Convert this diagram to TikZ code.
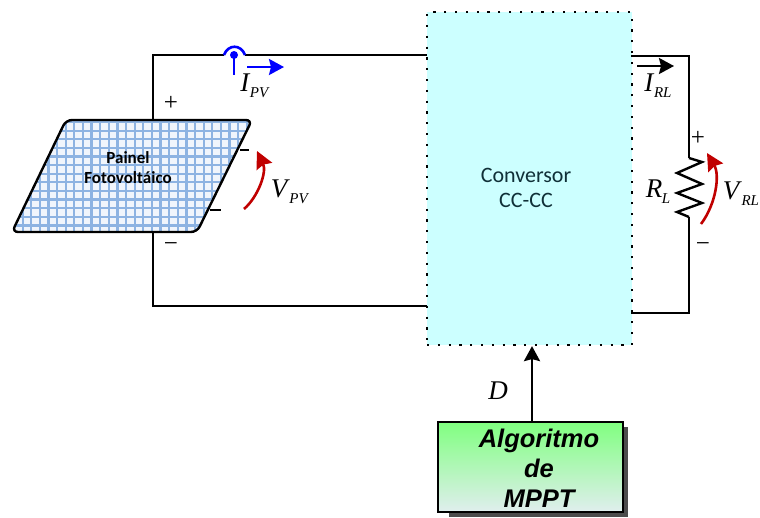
\documentclass[tikz,border=0pt]{standalone}
\usepackage{fontspec}
\setmainfont{Liberation Serif}
\setsansfont{Carlito}
\newfontfamily\arialfont{Liberation Sans}
\usepackage{tikz}
\usetikzlibrary{arrows,shapes,positioning,arrows.meta}
\definecolor{convfill}{HTML}{CCFFFF}
\definecolor{convtext}{HTML}{103038}
\definecolor{gridblue}{HTML}{8DB3E2}
\definecolor{cellblue}{HTML}{F0F5FC}
\definecolor{vred}{HTML}{C00000}
\definecolor{ipvblue}{HTML}{0000FF}
\definecolor{mpptgreen}{HTML}{80FF80}
\definecolor{mpptgrey}{HTML}{E0EEEE}
\newcommand{\sublbl}[2]{\textit{#1}\kern-0.5pt\raisebox{-6pt}{\fontsize{15}{15}\selectfont\textit{#2}}}

\begin{document}
\begin{tikzpicture}[x=1pt,y=-1pt,>=stealth',line width=2.4pt,
	wire/.style={draw=black,line width=2.4pt,line join=miter},
	lbl node/.style={inner sep=0pt,font=\fontsize{27}{27}\selectfont},
	sign node/.style={inner sep=0pt,font=\fontsize{25}{25}\selectfont},
	red arrow/.style={-{Stealth[length=17pt,width=17pt,inset=2pt]},draw=vred,line width=2.6pt},
	flow arrow/.style={-{Stealth[length=15pt,width=16pt,inset=2pt]},line width=2.4pt},
	conv node/.style={draw=black,fill=convfill,line width=2.2pt,dash pattern=on 2.2pt off 8.6pt,minimum width=205pt,minimum height=333pt,inner sep=0pt},
	mppt node/.style={draw=black,line width=2.4pt,top color=mpptgreen,bottom color=mpptgrey,minimum width=185pt,minimum height=90pt,inner sep=0pt}]
	
	\useasboundingbox (0,0) rectangle (760,517);
	
	% converter and control block
	\node[conv node] (conv) at (529.5,178.5) {};
	\node[inner sep=0pt,text=convtext,font=\sffamily\fontsize{22}{25}\selectfont,align=center] (convtxt) at (526,188) {Conversor\\CC-CC};
	\fill[black!70] (449,427) rectangle (628,517);
	\node[mppt node] (mppt) at (530.5,467) {};
	\node[inner sep=0pt,font=\arialfont\bfseries\itshape\fontsize{25.5}{30}\selectfont,align=center] (mppttxt) at (539,468) {Algoritmo\\de\\MPPT};
	\draw[flow arrow] (mppt.north -| 532,0) -- (conv.south -| 532,0);
	\node[lbl node] (dlbl) at (498,391) {\textit{D}};
	
	% panel
	\coordinate (ptl) at (66,120);
	\coordinate (ptr) at (252,120);
	\coordinate (pbr) at (197,232);
	\coordinate (pbl) at (12,232);
	\begin{scope}
		\clip[rounded corners=6pt] (ptl) -- (ptr) -- (pbr) -- (pbl) -- cycle;
		\fill[cellblue] (0,110) rectangle (260,240);
		\foreach \x in {0,...,29}
			\draw[gridblue,line width=2.2pt] (14+8.62*\x,110) -- (14+8.62*\x,240);
		\foreach \y in {0,...,13}
			\draw[gridblue,line width=2.2pt] (0,122+8.62*\y) -- (260,122+8.62*\y);
	\end{scope}
	\draw[wire,rounded corners=6pt] (ptl) -- (ptr) -- (pbr) -- (pbl) -- cycle;
	\node[inner sep=0pt,font=\sffamily\bfseries\fontsize{17}{20}\selectfont,align=center] (paneltxt) at (128,168) {Painel\\Fotovolt\'aico};
	
	% wires
	\coordinate (pvtop) at (153,120);
	\coordinate (pvbot) at (153,232);
	\coordinate (hopa) at (224,55);
	\coordinate (hopb) at (245,55);
	\coordinate (convtl) at (427,55);
	\coordinate (convbl) at (427,306);
	\coordinate (convtr) at (631,56);
	\coordinate (convbr) at (631,313);
	\coordinate (rtop) at (689,158);
	\coordinate (rbot) at (689,217);
	\draw[wire] (pvtop) |- (hopa);
	\draw[wire] (hopb) -- (convtl);
	\draw[wire] (pvbot) |- (convbl);
	\draw[wire] (convtr) -| (rtop);
	\draw[wire] (convbr) -| (rbot);
	\draw[wire] (rtop) -- (702,162) -- (677,173) -- (702,184) -- (677,193) -- (702,203) -- (677,212) -- (rbot);
	\draw[wire] (240,150) -- (249,150);
	\draw[wire] (210,210) -- (221,210);
	
	% current probe
	\coordinate (probe) at (234,55);
	\draw[ipvblue,line width=2.6pt] (hopa) .. controls (228,44) and (241,44) .. (hopb);
	\fill[ipvblue] (probe) circle (4pt);
	\draw[ipvblue,line width=2.6pt] (probe) -- (234,75);
	\coordinate (ipva) at (247,67);
	\coordinate (ipvb) at (284,67);
	\draw[flow arrow,ipvblue] (ipva) -- (ipvb);
	\coordinate (irla) at (637,66);
	\coordinate (irlb) at (674,66);
	\draw[flow arrow] (irla) -- (irlb);
	
	% voltage arrows
	\coordinate (vpva) at (244,209);
	\coordinate (vpvb) at (257,151);
	\draw[red arrow] (vpva) .. controls (258,197) and (267,172) .. (vpvb);
	\coordinate (vrla) at (701,224);
	\coordinate (vrlb) at (707,153);
	\draw[red arrow] (vrla) .. controls (716,204) and (720,175) .. (vrlb);
	
	% labels
	\node[lbl node] (ipvlbl) at (255,86) {\sublbl{I}{PV}};
	\node[lbl node] (irllbl) at (658,86) {\sublbl{I}{RL}};
	\node[lbl node] (vpvlbl) at (290,192) {\sublbl{V}{PV}};
	\node[lbl node] (vrllbl) at (741,194) {\sublbl{V}{RL}};
	\node[lbl node] (rllbl) at (658,192) {\sublbl{R}{L}};
	\node[sign node] (pvplus) at (171,103) {+};
	\node[sign node] (pvminus) at (171,247) {\textminus};
	\node[sign node] (rlplus) at (698,138) {+};
	\node[sign node] (rlminus) at (703,247) {\textminus};
\end{tikzpicture}
\end{document}
